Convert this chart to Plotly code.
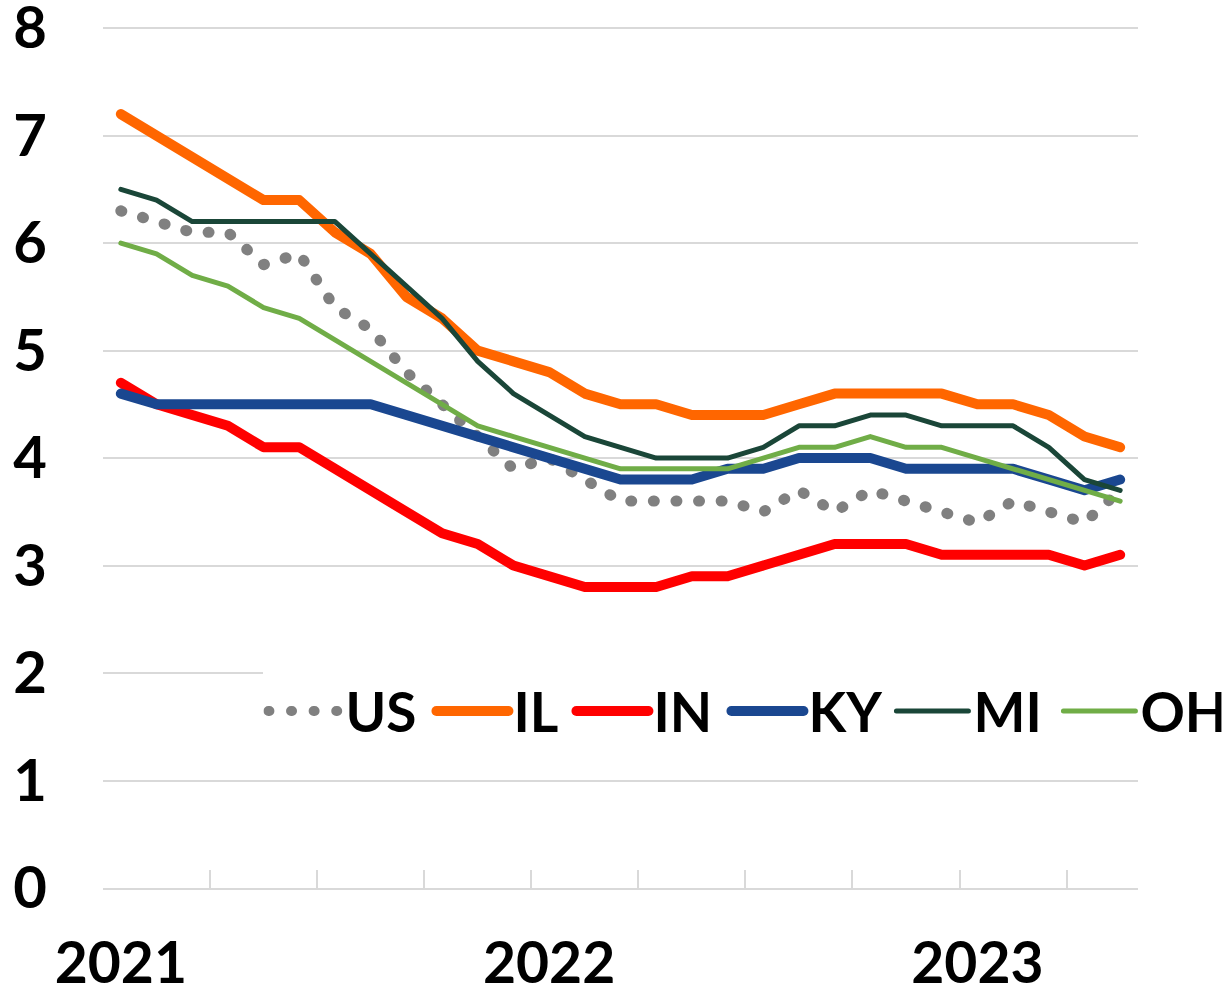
import plotly.graph_objects as go

months = [
    "Jan 2021", "Feb 2021", "Mar 2021", "Apr 2021", "May 2021", "Jun 2021",
    "Jul 2021", "Aug 2021", "Sep 2021", "Oct 2021", "Nov 2021", "Dec 2021",
    "Jan 2022", "Feb 2022", "Mar 2022", "Apr 2022", "May 2022", "Jun 2022",
    "Jul 2022", "Aug 2022", "Sep 2022", "Oct 2022", "Nov 2022", "Dec 2022",
    "Jan 2023", "Feb 2023", "Mar 2023", "Apr 2023", "May 2023",
]
year_ticks = ["Jan 2021", "Jan 2022", "Jan 2023"]
year_labels = ["2021", "2022", "2023"]

us = [6.3, 6.2, 6.1, 6.1, 5.8, 5.9, 5.4, 5.2, 4.8, 4.5, 4.2, 3.9,
      4.0, 3.8, 3.6, 3.6, 3.6, 3.6, 3.5, 3.7, 3.5, 3.7, 3.6, 3.5,
      3.4, 3.6, 3.5, 3.4, 3.7]
il = [7.2, 7.0, 6.8, 6.6, 6.4, 6.4, 6.1, 5.9, 5.5, 5.3, 5.0, 4.9,
      4.8, 4.6, 4.5, 4.5, 4.4, 4.4, 4.4, 4.5, 4.6, 4.6, 4.6, 4.6,
      4.5, 4.5, 4.4, 4.2, 4.1]
ind = [4.7, 4.5, 4.4, 4.3, 4.1, 4.1, 3.9, 3.7, 3.5, 3.3, 3.2, 3.0,
       2.9, 2.8, 2.8, 2.8, 2.9, 2.9, 3.0, 3.1, 3.2, 3.2, 3.2, 3.1,
       3.1, 3.1, 3.1, 3.0, 3.1]
ky = [4.6, 4.5, 4.5, 4.5, 4.5, 4.5, 4.5, 4.5, 4.4, 4.3, 4.2, 4.1,
      4.0, 3.9, 3.8, 3.8, 3.8, 3.9, 3.9, 4.0, 4.0, 4.0, 3.9, 3.9,
      3.9, 3.9, 3.8, 3.7, 3.8]
mi = [6.5, 6.4, 6.2, 6.2, 6.2, 6.2, 6.2, 5.9, 5.6, 5.3, 4.9, 4.6,
      4.4, 4.2, 4.1, 4.0, 4.0, 4.0, 4.1, 4.3, 4.3, 4.4, 4.4, 4.3,
      4.3, 4.3, 4.1, 3.8, 3.7]
oh = [6.0, 5.9, 5.7, 5.6, 5.4, 5.3, 5.1, 4.9, 4.7, 4.5, 4.3, 4.2,
      4.1, 4.0, 3.9, 3.9, 3.9, 3.9, 4.0, 4.1, 4.1, 4.2, 4.1, 4.1,
      4.0, 3.9, 3.8, 3.7, 3.6]

series_names = ["US", "IL", "IN", "KY", "MI", "OH"]
series_values = [us, il, ind, ky, mi, oh]
series_colors = ["#808080", "#FF6600", "#FF0000", "#1A4790", "#1A4638", "#70AD47"]
series_widths = [11, 10, 10, 10, 5, 5]
series_dash = ["1px,21.6px", "solid", "solid", "solid", "solid", "solid"]
legend_widths = [81, 53, 68, 78, 80, 76]

FONT = "Lato, 'Open Sans', 'Liberation Sans', sans-serif"

fig = go.Figure()
for name, vals, col, w, d, lw in zip(series_names, series_values, series_colors,
                                     series_widths, series_dash, legend_widths):
    fig.add_trace(go.Scatter(
        x=months, y=vals, name=name, mode="lines",
        line=dict(color=col, width=w, dash=d), legendwidth=lw,
    ))

# empty helper trace so the overlaid tick-mark axis gets drawn
fig.add_trace(go.Scatter(x=[], y=[], xaxis="x2", yaxis="y",
                         showlegend=False, hoverinfo="skip"))

fig.update_layout(
    width=1229, height=995,
    margin=dict(l=103, r=91, t=26, b=107, autoexpand=False),
    paper_bgcolor="white", plot_bgcolor="white",
    font=dict(family=FONT, size=58, color="black", weight="bold"),
    showlegend=True,
    legend=dict(
        orientation="h", x=0.155, xanchor="left", y=0.205, yanchor="middle",
        bgcolor="white", borderwidth=0, itemwidth=72,
        font=dict(family=FONT, size=55, color="black", weight="bold"),
    ),
    xaxis=dict(
        type="category", range=[-0.5, 28.5],
        tickmode="array", tickvals=year_ticks, ticktext=year_labels,
        ticks="", showgrid=False, zeroline=False,
        showline=True, linecolor="#D9D9D9", linewidth=2,
        tickfont=dict(family=FONT, size=57, color="black", weight="bold"),
        ticklabelstandoff=25, ticklabeloverflow="allow",
    ),
    xaxis2=dict(
        overlaying="x", anchor="y", side="bottom", type="linear",
        range=[-0.5, 28.5], tickmode="linear", tick0=-0.5, dtick=3,
        ticks="inside", ticklen=18, tickwidth=2, tickcolor="#D9D9D9",
        showticklabels=False, showgrid=False, zeroline=False, showline=False,
    ),
    yaxis=dict(
        range=[0, 8.02], dtick=1, tickmode="linear", tick0=0,
        showgrid=True, gridcolor="#D9D9D9", gridwidth=2,
        zeroline=False, showline=False, ticks="",
        tickfont=dict(family=FONT, size=58, color="black", weight="bold"),
        ticklabelstandoff=55, ticklabeloverflow="allow",
    ),
)

post = """
document.body.style.margin = '0';
var gd = document.getElementById('{plot_id}');
function fixCaps(){
  gd.querySelectorAll('path.js-line').forEach(function(p){
    p.style.strokeLinecap = 'round';
    p.style.strokeLinejoin = 'round';
  });
}
fixCaps();
gd.on('plotly_afterplot', fixCaps);
"""

fig.write_html("out.html", post_script=post, config={"displayModeBar": False})
